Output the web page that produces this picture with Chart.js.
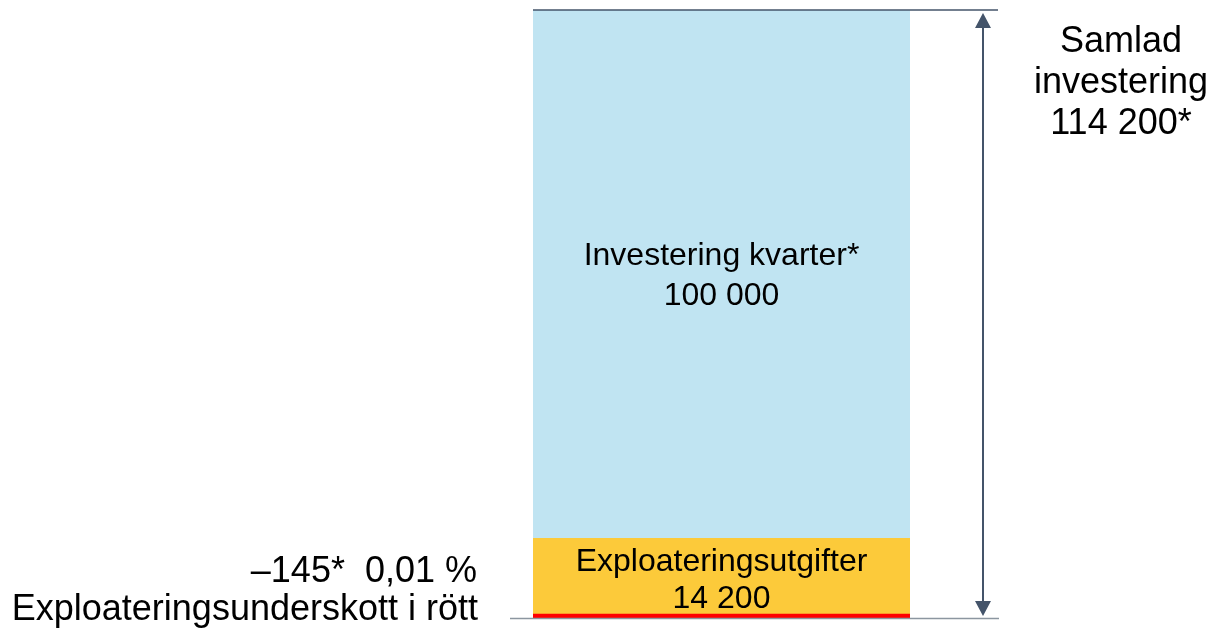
<!DOCTYPE html>
<html>
<head>
<meta charset="utf-8">
<script src="https://cdn.jsdelivr.net/npm/chart.js@4"></script>
<style>
  html, body { margin: 0; padding: 0; background: #fff; }
  #wrap { width: 1213px; height: 630px; position: relative; }
</style>
</head>
<body>
<div id="wrap"><canvas id="InvestChart"></canvas></div>
<script>
const categories = ['Investering'];
const deficitValues = [145];
const expenseValues = [14200];
const quarterValues = [100000];
const totalValues = [114200];

const seriesNames = ['Exploateringsunderskott', 'Exploateringsutgifter', 'Investering kvarter*'];
const quarterLabel = ['Investering kvarter*', '100 000'];
const expenseLabel = ['Exploateringsutgifter', '14 200'];
const totalLabel = ['Samlad', 'investering', '114 200*'];
const deficitLabel = ['\u2013145*  0,01 %', 'Exploateringsunderskott i r\u00f6tt'];

const innerFont = '32px "Liberation Sans", Arial, sans-serif';
const outerFont = '36px "Liberation Sans", Arial, sans-serif';

// lines, arrow and texts round the single bar
const annotations = {
    id: 'annotations',
    afterDatasetsDraw(chart) {
        const ctx = chart.ctx;
        const y = chart.scales.y;
        const x = chart.scales.x;
        const top = y.getPixelForValue(totalValues[0]);
        const base = y.getPixelForValue(0);
        const cx = x.getPixelForValue(0);

        ctx.save();
        ctx.lineWidth = 1.5;
        ctx.strokeStyle = '#44546a';
        ctx.beginPath();
        ctx.moveTo(533, top); ctx.lineTo(998, top);
        ctx.stroke();
        ctx.strokeStyle = '#8c96a0';
        ctx.beginPath();
        ctx.moveTo(510, base + 0.5); ctx.lineTo(999, base + 0.5);
        ctx.stroke();

        // double arrow
        const ax = 983;
        ctx.strokeStyle = '#44546a';
        ctx.fillStyle = '#44546a';
        ctx.lineWidth = 2;
        ctx.beginPath();
        ctx.moveTo(ax, top + 14); ctx.lineTo(ax, base - 14);
        ctx.stroke();
        ctx.beginPath();
        ctx.moveTo(ax, top + 3); ctx.lineTo(ax - 8, top + 18); ctx.lineTo(ax + 8, top + 18); ctx.closePath();
        ctx.fill();
        ctx.beginPath();
        ctx.moveTo(ax, base - 2); ctx.lineTo(ax - 8, base - 17); ctx.lineTo(ax + 8, base - 17); ctx.closePath();
        ctx.fill();

        ctx.fillStyle = '#000';
        ctx.textBaseline = 'middle';
        ctx.textAlign = 'center';

        ctx.font = innerFont;
        const quarterMid = y.getPixelForValue(expenseValues[0] + quarterValues[0] / 2);
        ctx.fillText(quarterLabel[0], cx, quarterMid - 20);
        ctx.fillText(quarterLabel[1], cx, quarterMid + 20);

        const expenseMid = y.getPixelForValue(expenseValues[0] / 2);
        ctx.fillText(expenseLabel[0], cx, expenseMid - 18);
        ctx.fillText(expenseLabel[1], cx, expenseMid + 19);

        ctx.font = outerFont;
        totalLabel.forEach((t, i) => ctx.fillText(t, 1121, top + 32 + i * 41));

        ctx.textAlign = 'right';
        ctx.fillText(deficitLabel[0], 477, base - 46);
        ctx.fillText(deficitLabel[1], 478, base - 8);
        ctx.restore();
    }
};

new Chart(document.getElementById('InvestChart').getContext('2d'), {
    type: 'bar',
    data: {
        labels: categories,
        datasets: [
            {
                label: seriesNames[0],
                data: deficitValues,
                backgroundColor: '#ff0000',
                minBarLength: 4,
                barPercentage: 1,
                categoryPercentage: 1
            },
            {
                label: seriesNames[1],
                data: expenseValues,
                backgroundColor: '#fcca3a',
                barPercentage: 1,
                categoryPercentage: 1
            },
            {
                label: seriesNames[2],
                data: quarterValues,
                backgroundColor: '#c0e4f2',
                barPercentage: 1,
                categoryPercentage: 1
            }
        ]
    },
    options: {
        responsive: true,
        maintainAspectRatio: false,
        animation: false,
        devicePixelRatio: 1,
        layout: { padding: { left: 533, right: 303, top: 10, bottom: 12 } },
        scales: {
            x: { stacked: true, display: false },
            y: { stacked: true, display: false, min: 0, max: totalValues[0] }
        },
        plugins: {
            legend: { display: false },
            tooltip: { enabled: false }
        }
    },
    plugins: [annotations]
});
</script>
</body>
</html>
